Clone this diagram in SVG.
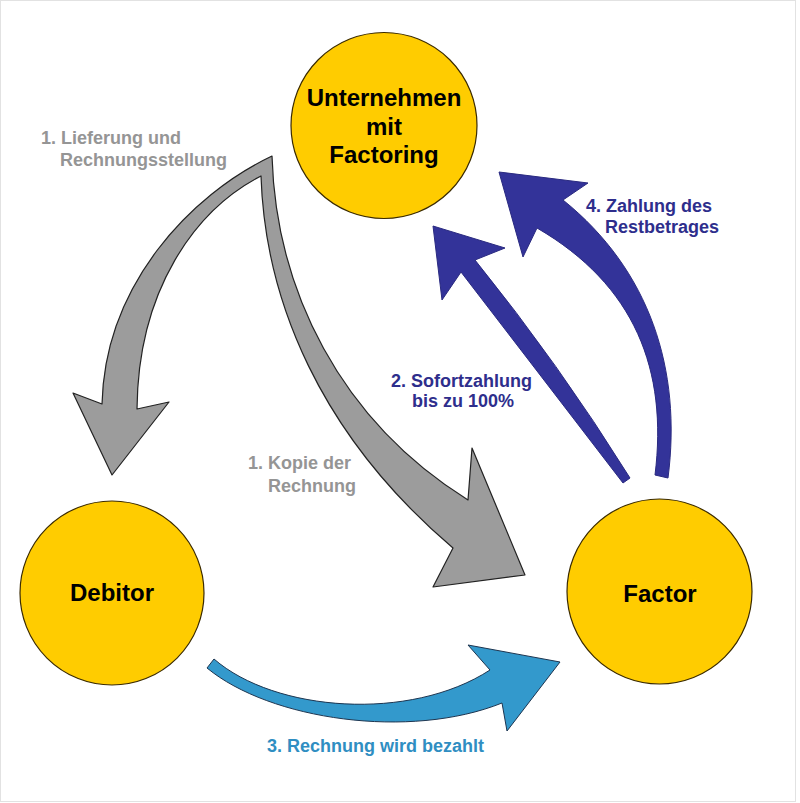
<svg xmlns="http://www.w3.org/2000/svg" width="800" height="803" viewBox="0 0 800 803">
<style>
.node{fill:#FFCC00;stroke:#3a2a00;stroke-width:1.2}
.nt{font-family:"Liberation Sans",Arial,sans-serif;font-weight:bold;font-size:24px;fill:#000;text-anchor:middle}
.lbl{font-family:"Liberation Sans",Arial,sans-serif;font-weight:bold;font-size:18px}
.gray{fill:#959595}
.navy{fill:#2E2E8C}
.sky{fill:#2F8EC2}
.ga{fill:#9C9C9C;stroke:#222;stroke-width:1.2;stroke-linejoin:round}
.da{fill:#333399;stroke:#2a2a80;stroke-width:1;stroke-linejoin:round}
.la{fill:#3399CC;stroke:#1d3550;stroke-width:1;stroke-linejoin:round}
</style>
<rect x="0.5" y="0.5" width="795" height="801" fill="#fff" stroke="#e2e2e2" stroke-width="1"/>
<g id="connectors">
  <path id="arrows-1" class="ga" d="M272,156 C190,195 105,285 102,404 L73,393 L112,475 L169,402 L137,409 C138,290 195,210 261,176 C265,300 320,435 453,548 L433,587 L525,575 L472,448 L468,500 C340,420 276,290 272,156 Z"/>
  <path id="arrow-2" class="da" d="M623,483 L461,272 L442,300 L433,226 L505,248 L475,260 Q559,364 630,478 Z"/>
  <path id="arrow-4" class="da" d="M655,475 C668,370 635,285 537,228 L523,257 L499,172 L588,183 L563,200 C650,270 682,370 668,478 Z"/>
  <path id="arrow-3" class="la" d="M207,668 C270,720 410,740 502,703 L507,731 L560,662 L468,645 L490,670 C410,722 275,712 214,659 Z"/>
</g>
<g id="labels">
  <text class="lbl gray" x="41" y="144">1. Lieferung und</text>
  <text class="lbl gray" x="60" y="166">Rechnungsstellung</text>
  <text class="lbl gray" x="248" y="469">1. Kopie der</text>
  <text class="lbl gray" x="268" y="492">Rechnung</text>
  <text class="lbl navy" x="391" y="387">2. Sofortzahlung</text>
  <text class="lbl navy" x="412" y="407">bis zu 100%</text>
  <text class="lbl navy" x="586" y="212">4. Zahlung des</text>
  <text class="lbl navy" x="605" y="233">Restbetrages</text>
  <text class="lbl sky" x="267" y="752">3. Rechnung wird bezahlt</text>
</g>
<g id="node-unternehmen">
  <circle class="node" cx="384" cy="125.5" r="93"/>
  <text class="nt" x="384" y="106">Unternehmen</text>
  <text class="nt" x="384" y="135">mit</text>
  <text class="nt" x="384" y="163">Factoring</text>
</g>
<g id="node-debitor">
  <circle class="node" cx="112" cy="593" r="92"/>
  <text class="nt" x="112" y="601">Debitor</text>
</g>
<g id="node-factor">
  <circle class="node" cx="659.5" cy="591.5" r="92.5"/>
  <text class="nt" x="660" y="602">Factor</text>
</g>
</svg>
